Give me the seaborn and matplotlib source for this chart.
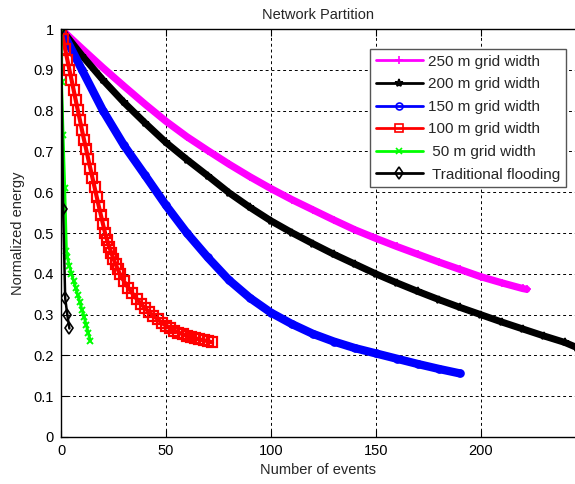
import matplotlib
matplotlib.use("Agg")
import matplotlib.pyplot as plt
from matplotlib.lines import Line2D
import pandas as pd
import seaborn as sns

# ---------------- data ----------------
labels = ["250 m grid width", "200 m grid width", "150 m grid width",
          "100 m grid width", " 50 m grid width", " Traditional flooding"]

x_250 = [0, 10, 20, 30, 40, 50, 60, 70, 80, 90, 100, 110, 120, 130, 140, 150,
         160, 170, 180, 190, 200, 210, 220, 222]
y_250 = [1.000, 0.952, 0.905, 0.860, 0.816, 0.774, 0.736, 0.702, 0.669, 0.638,
         0.609, 0.582, 0.557, 0.532, 0.508, 0.487, 0.467, 0.448, 0.429, 0.411,
         0.393, 0.378, 0.364, 0.362]

x_200 = [0, 10, 20, 30, 40, 50, 60, 70, 80, 90, 100, 110, 120, 130, 140, 150,
         160, 170, 180, 190, 200, 210, 220, 230, 240, 246]
y_200 = [1.000, 0.935, 0.875, 0.820, 0.770, 0.722, 0.680, 0.640, 0.599, 0.563,
         0.530, 0.501, 0.474, 0.448, 0.424, 0.400, 0.378, 0.357, 0.337, 0.318,
         0.300, 0.282, 0.265, 0.248, 0.232, 0.219]

x_150 = [0, 10, 20, 30, 40, 50, 60, 70, 80, 90, 100, 110, 120, 130, 140, 150,
         160, 170, 180, 190]
y_150 = [1.000, 0.900, 0.800, 0.715, 0.642, 0.568, 0.500, 0.440, 0.385, 0.341,
         0.305, 0.277, 0.253, 0.234, 0.218, 0.205, 0.192, 0.179, 0.167, 0.156]

x_100 = [0, 1, 2, 3, 4, 5, 6, 7, 8, 9, 10, 11, 12, 13, 14, 15, 16, 17, 18, 19,
         20, 21, 22, 23, 24, 25, 26, 27, 28, 30, 32, 34, 36, 38, 40, 42, 44, 46,
         48, 50, 52, 54, 56, 58, 60, 62, 64, 66, 68, 70, 72]
y_100 = [1.000, 0.975, 0.950, 0.925, 0.900, 0.876, 0.851, 0.826, 0.801, 0.777,
         0.752, 0.728, 0.705, 0.681, 0.658, 0.635, 0.612, 0.589, 0.566, 0.544,
         0.522, 0.500, 0.482, 0.466, 0.451, 0.437, 0.424, 0.412, 0.400, 0.382,
         0.366, 0.352, 0.339, 0.327, 0.316, 0.306, 0.297, 0.289, 0.280, 0.273,
         0.267, 0.261, 0.256, 0.252, 0.248, 0.245, 0.242, 0.239, 0.237, 0.235,
         0.232]

x_50 = [0, 0.3, 1.0, 1.8, 2.6, 3, 4, 5, 6, 7, 8, 9, 10, 11, 12, 13, 14]
y_50 = [1.000, 0.870, 0.740, 0.610, 0.455, 0.440, 0.420, 0.400, 0.383, 0.365,
        0.347, 0.330, 0.312, 0.295, 0.275, 0.255, 0.236]

x_trad = [0, 1, 2, 3, 4]
y_trad = [1.000, 0.560, 0.340, 0.300, 0.266]

x_ticks = [0, 50, 100, 150, 200]
y_ticks = [0, 0.1, 0.2, 0.3, 0.4, 0.5, 0.6, 0.7, 0.8, 0.9, 1.0]
y_tick_labels = ["0", "0.1", "0.2", "0.3", "0.4", "0.5", "0.6", "0.7", "0.8", "0.9", "1"]

# ---------------- styling ----------------
sns.set_style("white")
plt.rcParams['font.family'] = ['Liberation Sans', 'DejaVu Sans']
FS = 10.5

# (x, y, colour, marker, curve linewidth, markersize, marker edge width)
series = [
    (x_250, y_250, "#FF00FF", "+", 5.2, 6, 1.2),
    (x_200, y_200, "#000000", "*", 5.0, 6, 1.2),
    (x_150, y_150, "#0000FF", "o", 6.0, 5, 1.2),
    (x_100, y_100, "#FF0000", "s", 3.0, 6.5, 1.6),
    (x_50, y_50, "#00FF00", "x", 2.0, 5, 1.4),
    (x_trad, y_trad, "#000000", "d", 1.8, 6, 1.2),
]

fig = plt.figure(figsize=(5.75, 4.84), dpi=100)
ax = fig.add_axes([61 / 575, 47 / 484, 514 / 575, 408 / 484])

for xs, ys, col, mk, lw, ms, mew in series:
    df = pd.DataFrame({"x": xs, "y": ys})
    sns.lineplot(data=df, x="x", y="y", ax=ax, color=col, linewidth=lw,
                 marker=mk, markersize=ms, markeredgecolor=col,
                 markerfacecolor="none", markeredgewidth=mew,
                 estimator=None, sort=False, legend=False)

ax.set_xlim(0, 245)
ax.set_ylim(0, 1)
ax.set_xticks(x_ticks)
ax.set_xticklabels([str(v) for v in x_ticks])
ax.set_yticks(y_ticks)
ax.set_yticklabels(y_tick_labels)

ax.grid(True, color="black", linestyle=(0, (3, 3)), linewidth=0.7)
ax.set_axisbelow(True)
for s in ["left", "bottom", "top"]:
    ax.spines[s].set_visible(True)
    ax.spines[s].set_color("black")
    ax.spines[s].set_linewidth(1.0)
ax.spines["right"].set_visible(False)
ax.tick_params(direction="in", length=5, width=0.8, top=True, right=False,
               bottom=True, left=True, labelsize=FS, pad=5, colors="black")

ax.set_xlabel("Number of events", fontsize=FS, labelpad=4)
ax.set_ylabel("Normalized energy", fontsize=FS, labelpad=6)
ax.set_title("Network Partition", fontsize=FS, pad=7)

handles = [Line2D([], [], color=col, linewidth=2.0, marker=mk, markersize=min(ms, 6),
                  markeredgecolor=col, markerfacecolor="none", markeredgewidth=1.2)
           for _, _, col, mk, _, ms, _ in series]
leg = ax.legend(handles, labels, loc="upper right", bbox_to_anchor=(0.982, 0.951),
                borderaxespad=0, fontsize=11, frameon=True, fancybox=False,
                framealpha=1, edgecolor="#555555", handlelength=3.1,
                handletextpad=0.3, labelspacing=0.56, borderpad=0.38)
leg.get_frame().set_linewidth(1.0)

fig.savefig("out.png", dpi=100)
